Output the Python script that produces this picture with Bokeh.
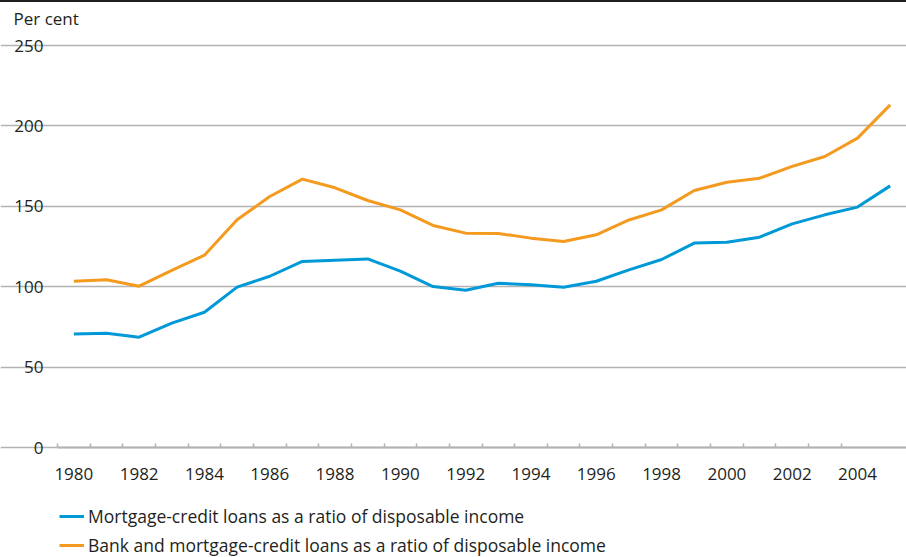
from bokeh.plotting import figure
from bokeh.models import Range1d, FixedTicker, Legend, LegendItem, Label, Div
from bokeh.layouts import column
from bokeh.embed import file_html
from bokeh.resources import INLINE

# ---- data ----
years = list(range(1980, 2006))
mortgage_ratio = [70.6, 71.1, 68.6, 77.3, 84.1, 99.7, 106.5, 115.7, 116.5, 117.3,
                  109.7, 100.1, 97.8, 102.2, 101.2, 99.7, 103.4, 110.5, 116.9, 127.1,
                  127.7, 130.8, 139.1, 144.7, 149.5, 162.7]
bank_mortgage_ratio = [103.4, 104.3, 100.3, 110.1, 119.6, 141.6, 156.1, 166.9, 161.5, 153.6,
                       147.8, 138.1, 133.3, 133.1, 130.2, 128.1, 132.3, 141.5, 147.8, 159.8,
                       165.0, 167.5, 174.8, 181.0, 192.4, 213.1]
x_tick_labels = [1980, 1982, 1984, 1986, 1988, 1990, 1992, 1994, 1996, 1998, 2000, 2002, 2004]
y_ticks = [0, 50, 100, 150, 200, 250]
series_names = ["Mortgage-credit loans as a ratio of disposable income",
                "Bank and mortgage-credit loans as a ratio of disposable income"]
y_unit = "Per cent"

# ---- style / layout ----
BLUE = "#0099d8"
ORANGE = "#f39a1f"
GRID = "#b3b3b3"
TEXT = "#231f20"
FONT = "Open Sans"
FS = "17px"
FS_LEGEND = "17.5px"

W, H = 906, 555          # figure size (a 2px black rule sits above it)
PLOT_LEFT = 57           # px where the data area starts
PLOT_TOP = 43            # px of y = max tick
PLOT_BOTTOM = 445        # px of y = 0
x0 = years[0] - 0.5
x1 = years[-1] + 0.5
y_max = y_ticks[-1]

px_per_year = (W - PLOT_LEFT) / (x1 - x0)
px_per_unit = (PLOT_BOTTOM - PLOT_TOP) / y_max
xr = Range1d(x0 - PLOT_LEFT / px_per_year, x1)
yr = Range1d(-(H - PLOT_BOTTOM) / px_per_unit, y_max + PLOT_TOP / px_per_unit)

rule = Div(text="", width=W, height=2, margin=0, styles={"background-color": TEXT})

p = figure(width=W, height=H, output_backend="svg", toolbar_location=None,
           x_range=xr, y_range=yr, min_border=0, title=None)
p.outline_line_color = None
p.background_fill_color = "white"
p.border_fill_color = "white"

r1 = p.line(years, mortgage_ratio, line_color=BLUE, line_width=3)
r2 = p.line(years, bank_mortgage_ratio, line_color=ORANGE, line_width=3)

# x axis (inside the frame, at y = 0)
p.xaxis.fixed_location = 0
p.xaxis.bounds = (x0, x1)
p.xaxis.ticker = FixedTicker(ticks=x_tick_labels, minor_ticks=[y - 0.5 for y in years[:-1]])
p.xaxis.major_tick_line_color = None
p.xaxis.major_tick_out = 0
p.xaxis.major_tick_in = 0
p.xaxis.minor_tick_in = 4
p.xaxis.minor_tick_out = 0
p.xaxis.minor_tick_line_color = GRID
p.xaxis.minor_tick_line_width = 1.5
p.xaxis.axis_line_color = GRID
p.xaxis.axis_line_width = 2
p.xaxis.major_label_standoff = 20
p.xaxis.major_label_text_font = FONT
p.xaxis.major_label_text_font_size = FS
p.xaxis.major_label_text_color = TEXT
p.xgrid.grid_line_color = None

# y axis (inside the frame, at the left edge of the data area)
p.yaxis.fixed_location = x0
p.yaxis.bounds = (0, y_max)
p.yaxis.ticker = FixedTicker(ticks=y_ticks)
p.yaxis.axis_line_color = None
p.yaxis.major_tick_line_color = None
p.yaxis.major_tick_out = 0
p.yaxis.major_tick_in = 0
p.yaxis.minor_tick_line_color = None
p.yaxis.major_label_standoff = 14
p.yaxis.major_label_text_font = FONT
p.yaxis.major_label_text_font_size = FS
p.yaxis.major_label_text_color = TEXT
p.ygrid.grid_line_color = GRID
p.ygrid.grid_line_width = 1.5
p.ygrid.bounds = (x0, x1)

p.add_layout(Label(x=13, y=H - 16, x_units="screen", y_units="screen", text=y_unit,
                   text_font=FONT, text_font_size=FS, text_color=TEXT,
                   text_baseline="alphabetic"))

legend = Legend(items=[LegendItem(label=series_names[0], renderers=[r1]),
                       LegendItem(label=series_names[1], renderers=[r2])],
                location=(59, 0), orientation="vertical",
                glyph_width=25, glyph_height=20, label_height=20, spacing=5,
                label_standoff=4, padding=0, margin=0,
                label_text_font=FONT, label_text_font_size=FS_LEGEND, label_text_color=TEXT,
                border_line_color=None, background_fill_alpha=0)
p.add_layout(legend)

layout = column(rule, p, spacing=0)

open("out.html", "w").write(file_html(layout, INLINE))
